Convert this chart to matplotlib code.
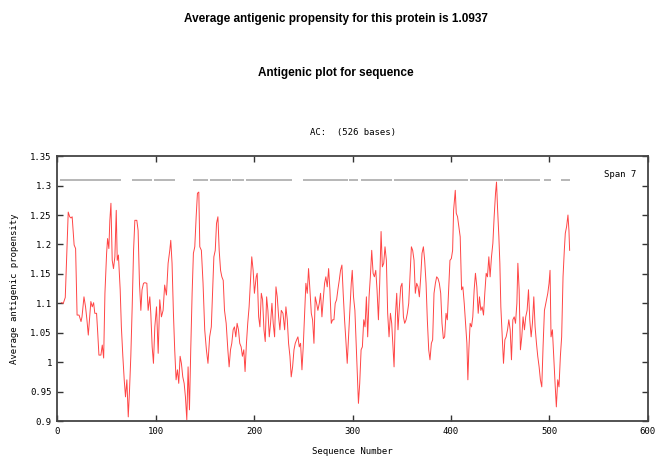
import matplotlib
matplotlib.use("Agg")
import matplotlib.pyplot as plt

# residue positions and antigenic propensity
pos = [4, 6, 8, 9.4, 11, 12.5, 13.8, 15, 16, 17, 18.5, 20, 22, 24, 25, 27, 28.6, 30, 31.4, 32.7,
       34, 35.4, 36.8, 38, 39.8, 40.8, 42.2, 44.2, 45.6, 47, 48.3, 50, 51, 52.3, 53.3, 54.4, 55.7,
       57, 58.4, 59.8, 60.8, 62, 63.8, 65, 66.5, 67.9, 69.2, 70.6, 72, 73.3, 74.6, 76, 77.4, 78.7,
       80.7, 82, 83.4, 84.8, 86, 87.5, 88.8, 90.9, 92.2, 93.9, 94.9, 96.3, 97.6,
       99, 100.7, 102.4, 104, 105.7, 107.4, 109, 110.8, 112.5, 114.2, 115.2, 116.5, 117.9, 119.2,
       120.6, 122, 123.3, 124.7, 126, 127.4, 128.8, 130.1, 131.5, 132.8, 134.2, 135.5, 136.9,
       138.2, 139.6, 141, 142.3, 143.7, 144.7, 146.3, 148, 149.7, 151.4, 153, 154.7, 156.4, 158,
       159, 160.4, 161.7, 163.1, 164.4, 165.8, 167.1, 168.5, 169.8, 171.5, 173.2, 174.5, 175.9,
       177.2, 178.6, 179.9, 181.3, 182.6, 184, 185.3, 186.7, 188, 189.4, 190.7, 192.1, 193.4,
       194.8, 196.1, 197.5, 198.9, 200.2,
       202, 203, 204.5, 205.8, 207.2, 208.5, 209.9, 211.2, 212.6, 213.9, 215.3, 216.6, 218, 219.3,
       220.7, 222.1, 223.4, 224.8, 226.1, 227.5, 229.2, 230.9, 232.2, 233.6, 234.9, 236.3, 237.6,
       239, 240.4, 241.7, 243.1, 244.4, 245.8, 247.1, 248.5, 249.8, 251.2, 252.5, 253.9, 255.2,
       256.6, 258, 259.3, 260.7, 262, 263.4, 264.7, 266.1, 267.4, 268.8, 270.1, 271.5, 272.8,
       274.2, 275.6, 276.9, 278.3, 279.6, 281, 282.3, 283.7, 285, 286.4, 287.7, 289.1, 290.4,
       291.8, 293.1, 294.5, 295.8, 297.2, 298.6, 299.6, 300.9, 302.3, 303.6, 305,
       305.9, 307.2, 308.6, 309.9, 311.3, 312.6, 314, 315.3, 316.7, 318, 319.4, 320.8, 322.1,
       323.5, 324.8, 326.2, 327.5, 328.9, 330.2, 331.6, 332.9, 334.3, 335.6, 337, 338.4, 339.7,
       341.1, 342.1, 343.4, 344.8, 346.1, 347.5, 348.9, 350.2, 351.6, 352.9, 354.3, 355.6, 357,
       358.3, 359.7, 361, 362.4, 363.7, 365.1, 366.5, 367.8, 369.2, 370.5, 371.9, 373.2, 374.6,
       375.9, 377.3, 378.6, 380, 381.3, 382.7, 384.1, 385.4, 386.8, 388.1, 389.5, 390.8, 392.2,
       393.5, 394.9, 396.2, 397.6, 398.9, 400.3, 401.6, 402.6,
       404.3, 405.3, 406.6, 408, 409.3, 410.7, 412, 413.4, 414.7, 416.1, 417.1, 418.1, 419.4,
       420.8, 422.1, 423.5, 424.8, 426.2, 427.6, 428.9, 430.3, 431.6, 433, 434.3, 435.7, 437,
       438.4, 439.7, 441.1, 442.5, 443.8, 445.2, 446.2, 447.2, 448.6, 449.6, 450.6, 452, 453.3,
       454.7, 456, 457.4, 458.7, 460.1, 461.4, 462.8, 464.2, 465.5, 466.9, 467.9, 469.2, 470.5,
       471.9, 473.2, 474.6, 475.9, 477.3, 478.7, 480, 481.4, 482.7, 484.1, 485.4, 486.8, 488.1,
       489.5, 490.8, 492.2, 493.5, 494.9, 496.3, 498.3, 499.6, 500.6, 501.6, 503, 504.3, 505.7,
       507, 508.4, 509.7, 511.1, 512.4, 513.8, 515.1, 516.1, 517.4, 518.8, 519.8, 520.5]

prop = [1.101, 1.100, 1.11, 1.18, 1.255, 1.247, 1.245, 1.247, 1.224, 1.199, 1.193, 1.08, 1.08,
        1.069, 1.077, 1.111, 1.094, 1.072, 1.046, 1.075, 1.103, 1.094, 1.101, 1.083, 1.083, 1.055,
        1.012, 1.012, 1.029, 1.007, 1.117, 1.185, 1.21, 1.193, 1.241, 1.27, 1.173, 1.159, 1.179,
        1.258, 1.173, 1.182, 1.123, 1.06, 1.01, 0.97, 0.941, 0.97, 0.907, 0.953, 1.01, 1.094,
        1.19, 1.241, 1.241, 1.224, 1.134, 1.088, 1.123, 1.134, 1.135, 1.134, 1.088, 1.111, 1.083,
        1.026, 0.998,
        1.06, 1.094, 1.015, 1.106, 1.077, 1.088, 1.131, 1.114, 1.168, 1.19, 1.207, 1.168, 1.083,
        1.021, 0.97, 0.987, 0.964, 1.01, 0.998, 0.975, 0.964, 0.941, 0.902, 0.992, 0.919, 1.021,
        1.117, 1.185, 1.196, 1.247, 1.287, 1.289, 1.196, 1.19, 1.134, 1.055, 1.021, 0.998, 1.043,
        1.06, 1.134, 1.179, 1.19, 1.236, 1.247, 1.19, 1.156, 1.145, 1.139, 1.088, 1.066, 1.021,
        0.992, 1.021, 1.032, 1.055, 1.06, 1.043, 1.066, 1.055, 1.032, 1.026, 1.01, 1.021, 0.984,
        1.032, 1.066, 1.094, 1.134, 1.179, 1.156, 1.117,
        1.145, 1.151, 1.077, 1.06, 1.117, 1.106, 1.055, 1.035, 1.111, 1.088, 1.043, 1.066, 1.1,
        1.066, 1.043, 1.128, 1.111, 1.077, 1.055, 1.088, 1.083, 1.055, 1.094, 1.072, 1.032, 1.01,
        0.975, 0.992, 1.021, 1.032, 1.038, 1.043, 1.026, 1.032, 0.987, 1.026, 1.083, 1.134, 1.117,
        1.159, 1.123, 1.083, 1.072, 1.032, 1.111, 1.1, 1.088, 1.1, 1.117, 1.077, 1.106, 1.134,
        1.145, 1.128, 1.159, 1.123, 1.066, 1.072, 1.072, 1.1, 1.106, 1.123, 1.139, 1.156, 1.165,
        1.117, 1.072, 1.038, 0.998, 1.043, 1.088, 1.134, 1.156, 1.111, 1.088, 1.032, 0.975,
        0.93, 0.964, 1.021, 1.026, 1.072, 1.06, 1.111, 1.043, 1.111, 1.145, 1.19, 1.151, 1.145,
        1.156, 1.123, 1.072, 1.134, 1.222, 1.162, 1.168, 1.196, 1.173, 1.083, 1.043, 1.083, 1.066,
        1.021, 0.992, 1.077, 1.117, 1.055, 1.094, 1.128, 1.134, 1.077, 1.066, 1.072, 1.083, 1.1,
        1.145, 1.196, 1.19, 1.173, 1.117, 1.134, 1.128, 1.111, 1.145, 1.185, 1.196, 1.173, 1.134,
        1.072, 1.021, 1.004, 1.032, 1.038, 1.117, 1.134, 1.145, 1.142, 1.134, 1.117, 1.066, 1.04,
        1.043, 1.083, 1.072, 1.123, 1.173, 1.176, 1.19, 1.258,
        1.292, 1.253, 1.247, 1.23, 1.213, 1.123, 1.128, 1.1, 1.066, 1.032, 0.97, 1.021, 1.066,
        1.06, 1.077, 1.123, 1.151, 1.128, 1.083, 1.111, 1.088, 1.094, 1.08, 1.117, 1.151, 1.145,
        1.179, 1.145, 1.179, 1.202, 1.247, 1.287, 1.306, 1.264, 1.213, 1.168, 1.094, 1.043, 0.998,
        1.038, 1.043, 1.055, 1.072, 1.055, 1.004, 1.072, 1.077, 1.066, 1.1, 1.168, 1.123, 1.021,
        1.043, 1.077, 1.055, 1.077, 1.088, 1.123, 1.072, 1.043, 1.066, 1.111, 1.06, 1.032, 1.01,
        0.992, 0.97, 0.958, 1.026, 1.088, 1.1, 1.117, 1.134, 1.156, 1.043, 1.055, 1.01, 0.964,
        0.924, 0.97, 0.958, 1.01, 1.043, 1.145, 1.19, 1.219, 1.23, 1.25, 1.224, 1.19]

# antigenic regions drawn as grey segments
region_start = [3, 76, 98, 138, 155, 177, 192, 250, 296, 309, 342, 419, 454, 494, 512]
region_end = [65, 96, 119, 153, 176, 190, 238, 295, 305, 340, 417, 453, 490, 502, 521]
region_level = 1.309

avg_prop = 1.0937
seq_len = 526
span = 7

fig = plt.figure(figsize=(6.59, 4.63), dpi=100)
ax = fig.add_axes([0.0871, 0.0907, 0.896, 0.572])

ax.plot(pos, prop, color="#ff4545", lw=0.7)
ax.hlines([region_level] * len(region_start), region_start, region_end,
          color="#aaaaaa", lw=1.2)

ax.set_xlim(0, 600)
ax.set_ylim(0.9, 1.35)
ax.set_xticks([0, 100, 200, 300, 400, 500, 600])
ax.set_yticks([0.9, 0.95, 1.0, 1.05, 1.1, 1.15, 1.2, 1.25, 1.3, 1.35])
ax.set_yticklabels(["0.9", "0.95", "1", "1.05", "1.1", "1.15", "1.2", "1.25", "1.3", "1.35"])

mono = "DejaVu Sans Mono"
ax.tick_params(direction="in", length=4, width=1, color="#333333",
               top=True, right=True, labelsize=6.5, pad=4)
for lab in ax.get_xticklabels() + ax.get_yticklabels():
    lab.set_family(mono)
for s in ax.spines.values():
    s.set_color("#444444")
    s.set_linewidth(1.3)

ax.set_xlabel("Sequence Number", family=mono, fontsize=6.5, labelpad=8)
ax.set_ylabel("Average antigenic propensity", family=mono, fontsize=6.5, labelpad=8)
ax.text(555, 1.319, "Span %d" % span, family=mono, fontsize=6.5, va="center")

title_font = ["Liberation Sans", "DejaVu Sans"]
fig.text(0.51, 1 - 19 / 463, "Average antigenic propensity for this protein is %.4f" % avg_prop,
         ha="center", va="center", family=title_font, fontweight="bold", fontsize=8.5)
fig.text(0.51, 1 - 73 / 463, "Antigenic plot for sequence",
         ha="center", va="center", family=title_font, fontweight="bold", fontsize=8.5)
fig.text(0.535, 1 - 133 / 463, "AC:  (%d bases)" % seq_len,
         ha="center", va="center", family=mono, fontsize=6.5)

fig.savefig("out.png", dpi=100)
